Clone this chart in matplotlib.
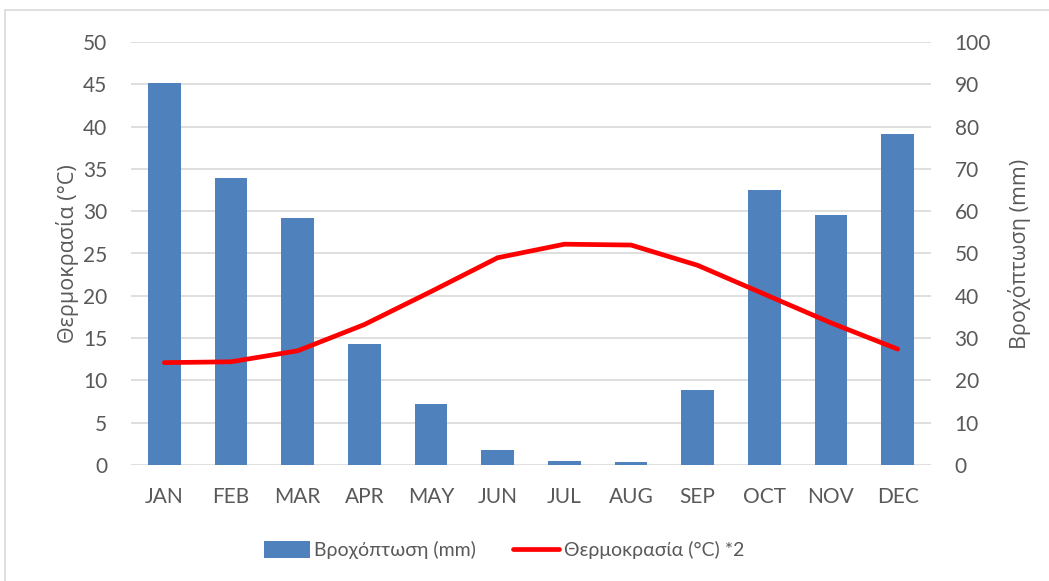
import matplotlib
matplotlib.use("Agg")
import matplotlib.pyplot as plt
from matplotlib.patches import Rectangle

months = ["JAN", "FEB", "MAR", "APR", "MAY", "JUN",
          "JUL", "AUG", "SEP", "OCT", "NOV", "DEC"]
rain_mm = [90.3, 67.8, 58.5, 28.6, 14.4, 3.5, 1.0, 0.6, 17.8, 65.0, 59.2, 78.2]
temp_c = [12.1, 12.2, 13.5, 16.6, 20.5, 24.5, 26.1, 26.0, 23.6, 20.2, 16.8, 13.7]

bar_color = "#4f81bd"
line_color = "#ff0000"
text_color = "#595959"
grid_color = "#d9d9d9"
font = ["Lato", "DejaVu Sans"]

fig = plt.figure(figsize=(10.49, 5.81), dpi=100)
fig.patches.append(Rectangle((5 / 1049, -0.01), 1.02, (581 - 10) / 581 + 0.01,
                             transform=fig.transFigure, fill=False,
                             edgecolor="#d9d9d9", linewidth=1.2))

ax = fig.add_axes([131 / 1049, 116 / 581, 800 / 1049, 423 / 581])
ax2 = ax.twinx()

x = list(range(len(months)))

# rainfall bars sit on the right (mm) axis, temperature line on the left (°C)
ax2.bar(x, rain_mm, width=0.49, color=bar_color, zorder=2,
        label="Βροχόπτωση (mm)")
ax.plot(x, temp_c, color=line_color, linewidth=3.4, solid_capstyle="round",
        zorder=5, label="Θερμοκρασία (°C) *2")

ax.set_zorder(ax2.get_zorder() + 1)
ax.patch.set_visible(False)

ax.set_xlim(-0.5, 11.5)
ax.set_ylim(0, 50)
ax2.set_ylim(0, 100)
ax.set_yticks(range(0, 51, 5))
ax2.set_yticks(range(0, 101, 10))
ax.set_xticks(x)
ax.set_xticklabels(months)

for a in (ax, ax2):
    for s in a.spines.values():
        s.set_visible(False)
    a.tick_params(length=0, colors=text_color, labelsize=15)
    for lbl in a.get_xticklabels() + a.get_yticklabels():
        lbl.set_family(font)

ax.tick_params(axis="y", pad=17)
ax2.tick_params(axis="y", pad=17)
ax.tick_params(axis="x", pad=16)

ax2.yaxis.grid(True, color=grid_color, linewidth=1.2, zorder=0)
ax2.set_axisbelow(True)

ax.set_ylabel("Θερμοκρασία (°C)", fontsize=15.5, color=text_color,
              family=["Open Sans", "DejaVu Sans"], labelpad=3)
ax2.set_ylabel("Βροχόπτωση (mm)", fontsize=15.5, color=text_color,
               family=["Open Sans", "DejaVu Sans"], labelpad=12)

h1, l1 = ax2.get_legend_handles_labels()
h2, l2 = ax.get_legend_handles_labels()
leg = fig.legend(h1 + h2, l1 + l2, loc="center", bbox_to_anchor=(504 / 1049, 31 / 581),
                 ncol=2, frameon=False, handlelength=2.35,
                 handleheight=1.0, handletextpad=0.25, columnspacing=1.9,
                 prop={"family": font, "size": 14})
for t in leg.get_texts():
    t.set_color(text_color)

fig.savefig("out.png", dpi=100)
